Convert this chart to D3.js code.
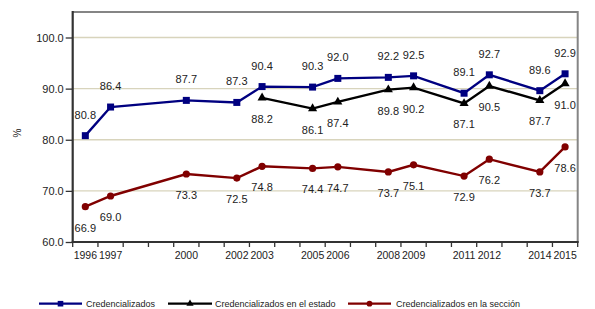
<!DOCTYPE html>
<html><head><meta charset="utf-8">
<script src="https://cdn.jsdelivr.net/npm/d3@7/dist/d3.min.js"></script>
<style>body{margin:0;background:#fff}svg{display:block;font-family:"Liberation Sans",Arial,sans-serif}</style>
</head><body><svg id="c" width="595" height="309"></svg>
<script>
const allYears = d3.range(1996, 2016).map(String);
const years = ["1996","1997","2000","2002","2003","2005","2006","2008","2009","2011","2012","2014","2015"];
const credencializados = [80.8,86.4,87.7,87.3,90.4,90.3,92.0,92.2,92.5,89.1,92.7,89.6,92.9];
const estadoYears = ["2003","2005","2006","2008","2009","2011","2012","2014","2015"];
const enEstado = [88.2,86.1,87.4,89.8,90.2,87.1,90.5,87.7,91.0];
const enSeccion = [66.9,69.0,73.3,72.5,74.8,74.4,74.7,73.7,75.1,72.9,76.2,73.7,78.6];
const yTicks = [60,70,80,90,100];
const seriesNames = ["Credencializados","Credencializados en el estado","Credencializados en la sección"];

const svg = d3.select("#c");
const L=72.7, R=577.7, T=12, B=242;
const x = d3.scaleBand().domain(allYears).range([L,R]);
const y = d3.scaleLinear().domain([60,100]).range([B,37.5]);
const cx = d => x(d)+x.bandwidth()/2;

// gridlines
svg.append("g").selectAll("line").data(yTicks.filter(t=>t>60)).join("line")
  .attr("x1",L).attr("x2",R).attr("y1",d=>y(d)).attr("y2",d=>y(d))
  .attr("stroke","#d8d4bc").attr("stroke-width",1.3);
// border top/right
svg.append("path").attr("d",`M${L},${T}H${R}V${B}`).attr("fill","none").attr("stroke","#858585").attr("stroke-width",2);

// y axis
const ya = svg.append("g").attr("transform",`translate(${L},0)`)
  .call(d3.axisLeft(y).tickValues(yTicks).tickFormat(d3.format(".1f")).tickSize(7).tickSizeOuter(0));
ya.select(".domain").remove();
ya.selectAll(".tick line").attr("stroke","#333").attr("stroke-width",1.3);
ya.selectAll(".tick text").attr("font-size",11).attr("fill","#222").attr("font-family","Liberation Sans, Arial, sans-serif").attr("x",-9);
svg.append("line").attr("x1",L).attr("x2",L).attr("y1",T-1).attr("y2",B+1).attr("stroke","#333").attr("stroke-width",2.2);

// x axis
svg.append("line").attr("x1",L-1).attr("x2",R+1).attr("y1",B).attr("y2",B).attr("stroke","#333").attr("stroke-width",2.2);
const bounds = allYears.map(d=>x(d)).concat([R]);
svg.append("g").selectAll("line").data(bounds).join("line")
  .attr("x1",d=>d).attr("x2",d=>d).attr("y1",B).attr("y2",B+5).attr("stroke","#333").attr("stroke-width",1.3);
svg.append("g").selectAll("text").data(years).join("text")
  .attr("x",d=>cx(d)).attr("y",B+17).attr("text-anchor","middle")
  .attr("font-size",10.5).attr("fill","#222").text(d=>d);

// y label
svg.append("text").attr("transform","translate(21,133) rotate(-90)").attr("text-anchor","middle")
  .attr("font-size",10).attr("fill","#222").text("%");

const line = d3.line().x(d=>cx(d[0])).y(d=>y(d[1]));
const series = [
  {data:d3.zip(years,credencializados), color:"#000080", marker:"square", dy:-21},
  {data:d3.zip(estadoYears,enEstado), color:"#000000", marker:"triangle", dy:21},
  {data:d3.zip(years,enSeccion), color:"#800000", marker:"circle", dy:21}
];
function marker(g, type, color, k){
  k = k||1;
  if(type==="square") g.append("rect").attr("x",-3.5*k).attr("y",-3.5*k).attr("width",7*k).attr("height",7*k).attr("fill",color);
  else if(type==="triangle") g.append("path").attr("d",d3.symbol(d3.symbolTriangle,36*k*k)()).attr("fill",color);
  else g.append("circle").attr("r",3.6*k).attr("fill",color);
}
series.forEach(s=>{
  svg.append("path").attr("d",line(s.data)).attr("fill","none").attr("stroke",s.color).attr("stroke-width",2.4);
  s.data.forEach(d=>{
    const g = svg.append("g").attr("transform",`translate(${cx(d[0])},${y(d[1])})`);
    marker(g,s.marker,s.color);
  });
  svg.append("g").selectAll("text").data(s.data).join("text")
    .attr("x",d=>cx(d[0])).attr("y",d=>y(d[1])+s.dy+4).attr("text-anchor","middle")
    .attr("font-size",11).attr("fill","#222").text(d=>d3.format(".1f")(d[1]));
});

// legend
const leg = [{x1:39,x2:82,tx:86},{x1:168,x2:212,tx:215},{x1:348,x2:391,tx:396}];
series.forEach((s,i)=>{
  const ly=303.7;
  svg.append("line").attr("x1",leg[i].x1).attr("x2",leg[i].x2).attr("y1",ly).attr("y2",ly).attr("stroke",s.color).attr("stroke-width",2.2);
  const g = svg.append("g").attr("transform",`translate(${(leg[i].x1+leg[i].x2)/2},${ly})`);
  marker(g,s.marker,s.color,0.8);
  svg.append("text").attr("x",leg[i].tx).attr("y",ly+3.2).attr("font-size",9).attr("fill","#222").text(seriesNames[i]);
});
</script></body></html>
